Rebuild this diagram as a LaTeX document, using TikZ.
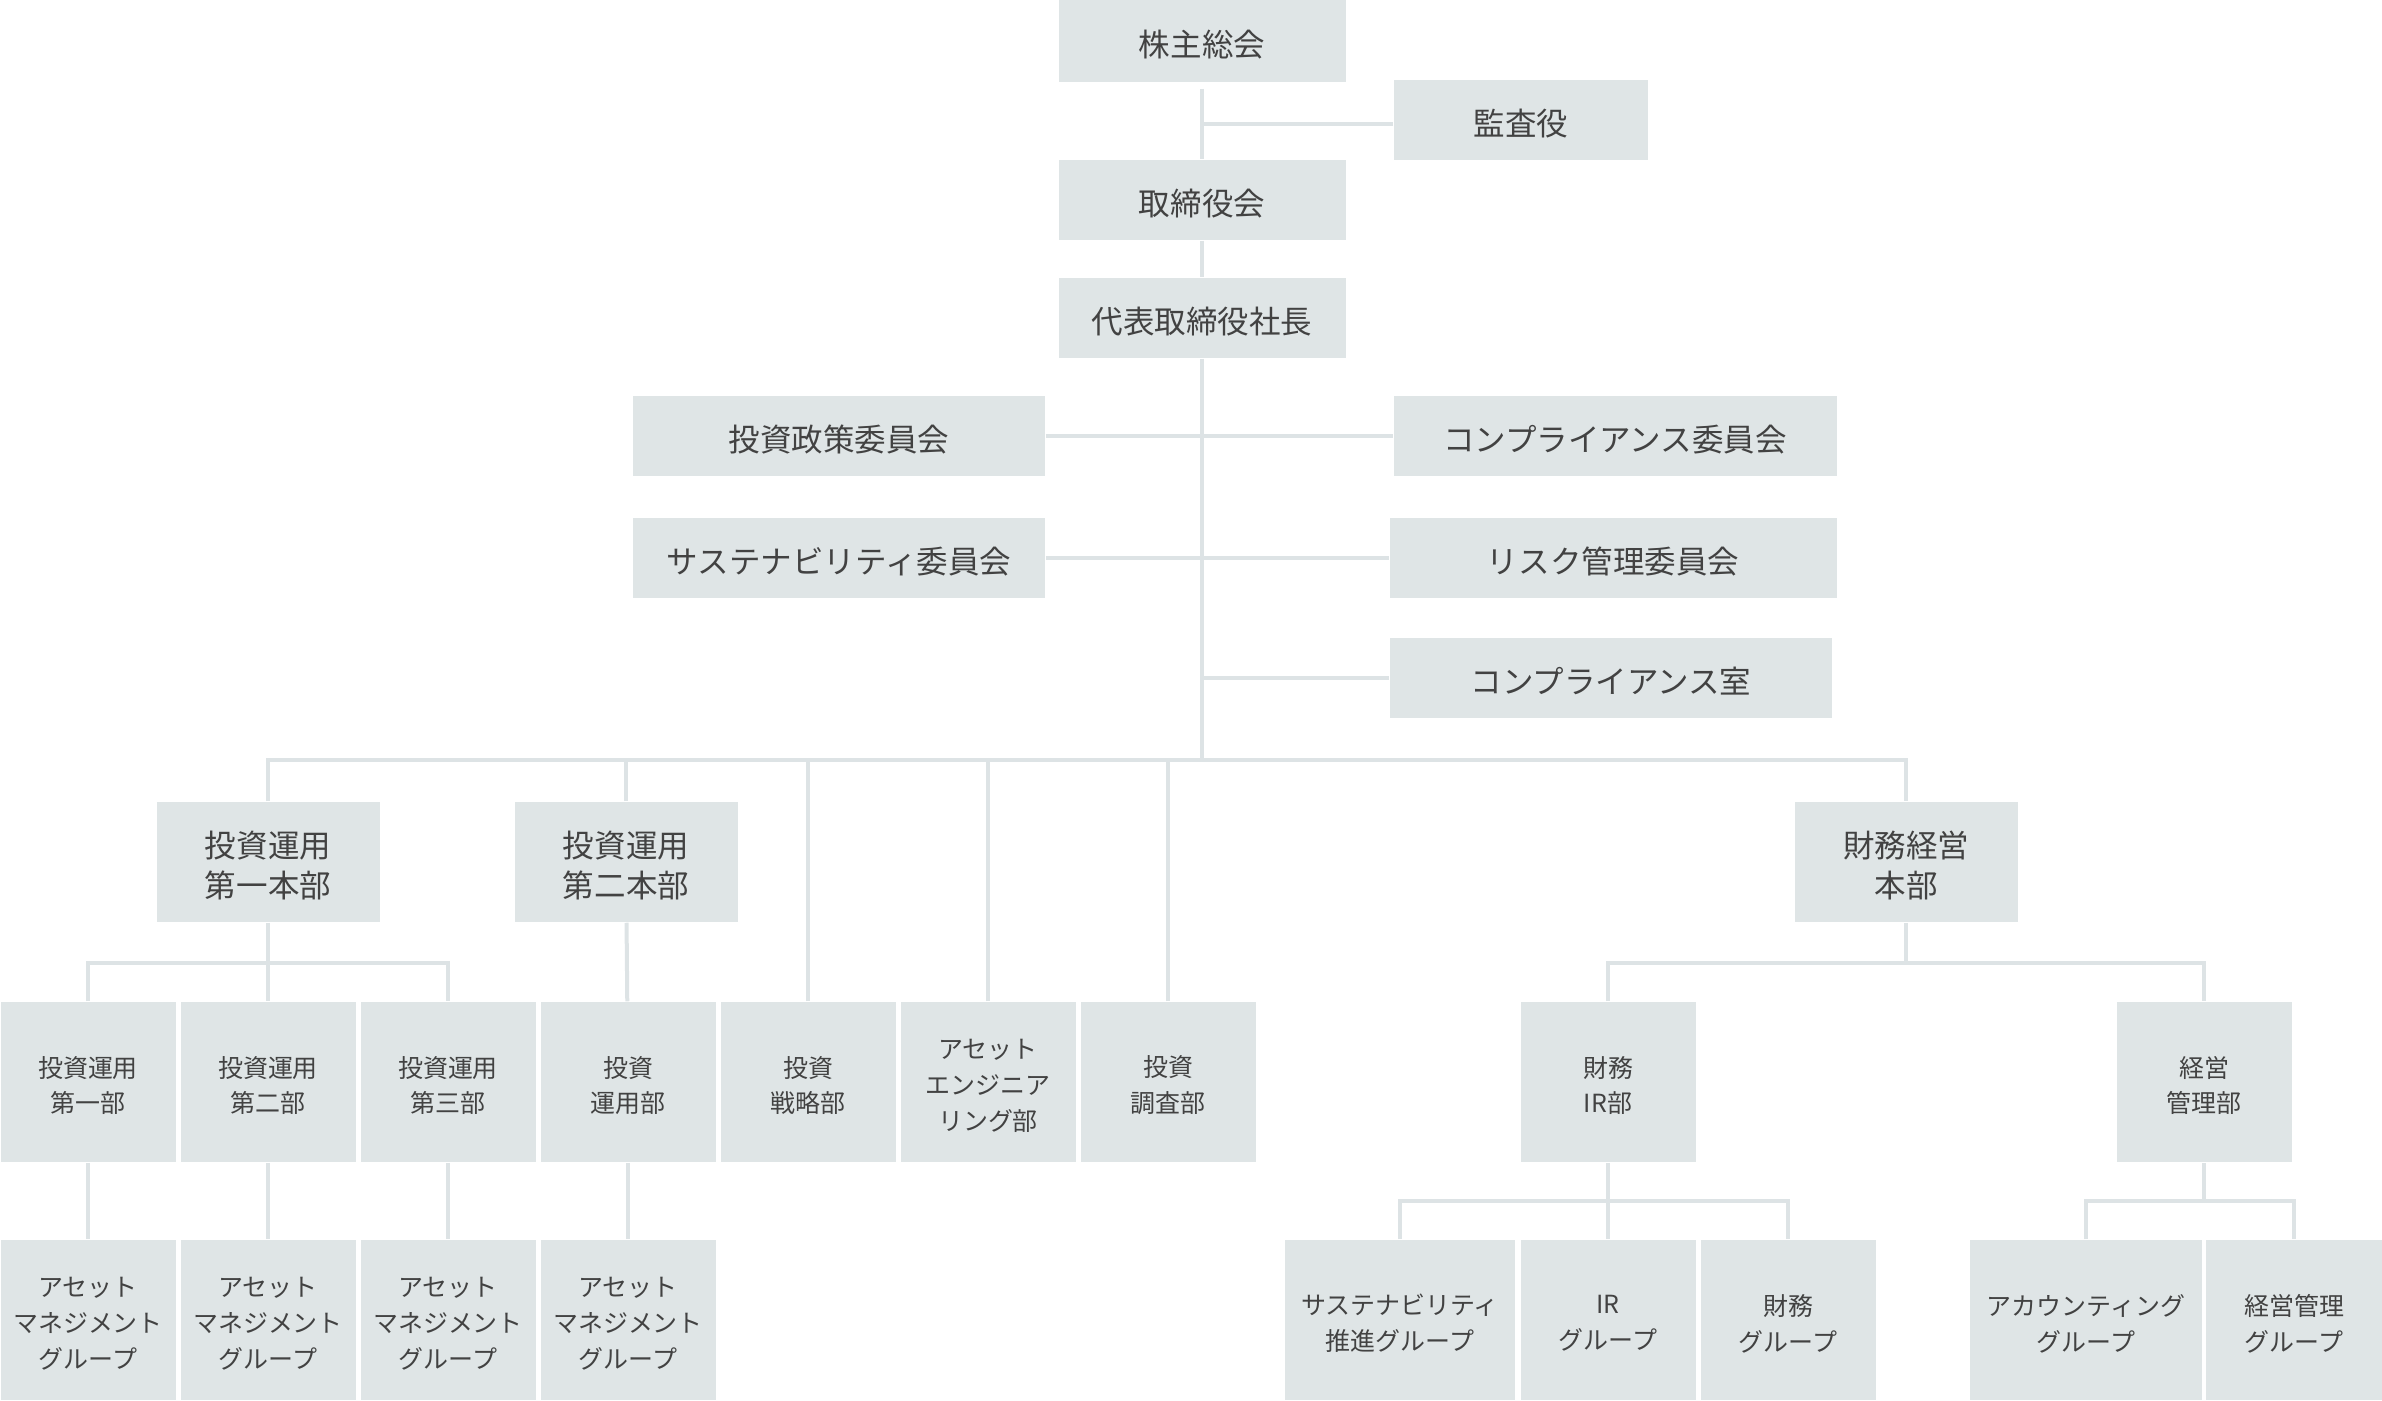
\documentclass[tikz,border=0pt]{standalone}
\usepackage{fontspec}
\setmainfont{Noto Sans CJK JP}
\usetikzlibrary{calc}
\definecolor{boxgray}{HTML}{DFE5E6}
\definecolor{linegray}{HTML}{DDE3E5}
\definecolor{inkgray}{HTML}{424242}
\tikzset{
	unit/.style={fill=boxgray, text=inkgray, inner sep=0pt, align=center, minimum width=#1*0.01cm,
		text height=\dimexpr\ht\pgfnodeparttextbox+0.07cm\relax},
	big/.style={unit=#1, minimum height=0.8cm, font=\fontsize{8.96pt}{11.4pt}\selectfont},
	tall/.style={unit=#1, minimum height=1.2cm, font=\fontsize{8.96pt}{11.4pt}\selectfont},
	small/.style={unit=#1, minimum height=1.6cm, font=\fontsize{7.1pt}{10.2pt}\selectfont},
	link/.style={draw=linegray, line width=0.04cm}
}
\begin{document}
\begin{tikzpicture}[x=0.01cm, y=-0.01cm]
				\clip (0, 0) rectangle (2382, 1400);
				
				\node[big=287, minimum height=0.82cm] (kabu) at (1202, 41) {株主総会};
				\node[big=254] (kansa) at (1521, 120) {監査役};
				\node[big=287] (torishimari) at (1202, 200) {取締役会};
				\node[big=287] (shacho) at (1202, 318) {代表取締役社長};
				
				\node[big=412] (seisaku) at (839, 436) {投資政策委員会};
				\node[big=443] (compiin) at (1615, 436) {コンプライアンス委員会};
				\node[big=412] (susiin) at (839, 558) {サステナビリティ委員会};
				\node[big=447] (risk) at (1613, 558) {リスク管理委員会};
				\node[big=442] (comroom) at (1611, 678) {コンプライアンス室};
				
				\coordinate (bus) at (1202, 760);
				
				\node[tall=223] (hqa) at (268, 862) {投資運用\\第一本部};
				\node[tall=223] (hqb) at (626, 862) {投資運用\\第二本部};
				\node[tall=223] (hqz) at (1906, 862) {財務経営\\本部};
				
				\node[small=175] (unya) at (88, 1082) {投資運用\\第一部};
				\node[small=175] (unyb) at (268, 1082) {投資運用\\第二部};
				\node[small=175] (unyc) at (448, 1082) {投資運用\\第三部};
				\node[small=175] (unyd) at (628, 1082) {投資\\運用部};
				\node[small=175] (senryaku) at (808, 1082) {投資\\戦略部};
				\node[small=175] (asseteng) at (988, 1082) {アセット\\エンジニア\\リング部};
				\node[small=175] (chousa) at (1168, 1082) {投資\\調査部};
				\node[small=175] (zaimuir) at (1608, 1082) {財務\\IR部};
				\node[small=175] (keiei) at (2204, 1082) {経営\\管理部};
				
				\node[small=175] (ama) at (88, 1320) {アセット\\マネジメント\\グループ};
				\node[small=175] (amb) at (268, 1320) {アセット\\マネジメント\\グループ};
				\node[small=175] (amc) at (448, 1320) {アセット\\マネジメント\\グループ};
				\node[small=175] (amd) at (628, 1320) {アセット\\マネジメント\\グループ};
				\node[small=230] (susgrp) at (1400, 1320) {サステナビリティ\\推進グループ};
				\node[small=175] (irgrp) at (1608, 1320) {IR\\グループ};
				\node[small=175] (zaimugrp) at (1788, 1320) {財務\\グループ};
				\node[small=232] (accgrp) at (2086, 1320) {アカウンティング\\グループ};
				\node[small=176] (keieigrp) at (2294, 1320) {経営管理\\グループ};
				
				\draw[link, shorten <=0.06cm] (kabu) -- (torishimari);
				\draw[link] ([yshift=-0.04cm]kansa.west) -- ([yshift=-0.04cm]kansa.west -| kabu.south);
				\draw[link] (torishimari) -- (shacho);
				\draw[link] (shacho) -- (bus);
				\draw[link] (seisaku) -- (compiin);
				\draw[link] (susiin) -- (risk);
				\draw[link] (comroom.west) -- (comroom.west -| shacho.south);
				
				\draw[link] (hqa.north) -- (hqa.north |- bus) -- (hqz.north |- bus) -- (hqz.north);
				\draw[link] (hqb.north) -- (hqb.north |- bus);
				\draw[link] (senryaku.north) -- (senryaku.north |- bus);
				\draw[link] (asseteng.north) -- (asseteng.north |- bus);
				\draw[link] (chousa.north) -- (chousa.north |- bus);
				
				\coordinate (suba) at (268, 963);
				\draw[link] (unya.north) -- (unya.north |- suba) -- (unyc.north |- suba) -- (unyc.north);
				\draw[link] (hqa) -- (unyb);
				\draw[link] (hqb) -- (unyd);
				
				\coordinate (subz) at (1906, 963);
				\draw[link] (zaimuir.north) -- (zaimuir.north |- subz) -- (keiei.north |- subz) -- (keiei.north);
				\draw[link] (hqz.south) -- (subz);
				
				\draw[link] (unya) -- (ama);
				\draw[link] (unyb) -- (amb);
				\draw[link] (unyc) -- (amc);
				\draw[link] (unyd) -- (amd);
				
				\coordinate (subir) at (1608, 1201);
				\draw[link] (susgrp.north) -- (susgrp.north |- subir) -- (zaimugrp.north |- subir) -- (zaimugrp.north);
				\draw[link] (zaimuir) -- (irgrp);
				
				\coordinate (subkei) at (2204, 1201);
				\draw[link] (accgrp.north) -- (accgrp.north |- subkei) -- (keieigrp.north |- subkei) -- (keieigrp.north);
				\draw[link] (keiei.south) -- (subkei);
			\end{tikzpicture}
\end{document}
